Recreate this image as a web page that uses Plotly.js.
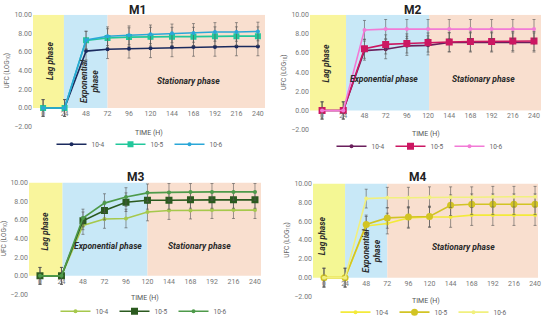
<!DOCTYPE html>
<html><head><meta charset="utf-8">
<script src="https://cdn.plot.ly/plotly-3.0.1.min.js"></script>
<style>html,body{margin:0;padding:0;background:#fff}#c{width:550px;height:327px}</style>
</head><body><div id="c"></div>
<script>
const times = ["0","24","48","72","96","120","144","168","192","216","240"];
const seriesNames = ["10-4","10-5","10-6"];

const m1_104 = [0,0,6.1,6.3,6.35,6.4,6.5,6.55,6.55,6.6,6.6];
const m1_105 = [0,0,7.25,7.5,7.6,7.65,7.65,7.65,7.7,7.7,7.7];
const m1_106 = [0,0,7.3,7.7,7.8,7.9,8.0,8.05,8.15,8.15,8.2];
const m1_err = [0.9,0.9,0.95,1.0,1.0,1.0,1.0,1.0,1.0,1.0,1.0];

const m2_104 = [0,0,6.25,6.4,6.75,6.8,7.1,7.1,7.1,7.1,7.1];
const m2_105 = [0,0,6.45,6.9,7.0,7.1,7.15,7.2,7.2,7.25,7.25];
const m2_106 = [0,0,8.4,8.5,8.5,8.5,8.5,8.5,8.5,8.5,8.5];
const m2_err = [0.9,0.9,1.0,1.0,1.0,1.0,1.0,1.0,1.0,1.0,1.0];

const m3_104 = [0,0,5.4,6.1,6.15,6.85,7.0,7.0,7.05,7.05,7.05];
const m3_105 = [0,0,5.9,7.0,7.9,8.1,8.1,8.15,8.15,8.15,8.15];
const m3_106 = [0,0,6.2,7.8,8.45,8.9,8.95,9.0,9.0,9.0,9.0];
const m3_err = [0.9,0.9,0.95,1.0,1.0,0.95,0.95,0.9,0.9,0.9,0.9];

const m4_104 = [0,0,5.5,5.75,6.35,6.45,6.45,6.65,6.65,6.65,6.65];
const m4_105 = [0,0,5.65,6.35,6.45,6.5,7.7,7.8,7.8,7.8,7.8];
const m4_106 = [0,0,8.4,8.5,8.5,8.55,8.55,8.55,8.6,8.6,8.6];
const m4_err = [1.0,1.0,1.0,1.1,1.1,1.1,1.1,1.1,1.1,1.1,1.1];

const idx = times.map((t,i)=>i);
const W=550,H=327;
const px=(a,b)=>[a/W,b/W];
const py=(top,bot)=>[1-bot/H,1-top/H];

const panels = [
  {name:"M1", ax:"", data:[m1_104,m1_105,m1_106], err:m1_err,
   colors:["#1b2a5e","#22c79b","#2aa7d8"], sizes:[4,6,4], sym:["circle","square","circle"],
   xd:px(33,265), top:15, bot:129, xr:[-0.47,10.33],
   phases:[[-0.47,0.97,"#f9f59c"],[0.97,3,"#c8e8f7"],[3,10.33,"#f9dfcf"]],
   legend:"legend", lx:140, ly:147, tx:137, ty:10, xt:135,
   labels:[{t:"Lag phase",x:0.33,y:5.05,r:-90},{t:"Exponential<br>phase",x:2.19,y:2.9,r:-90},{t:"Stationary phase",x:6.75,y:2.9,r:0}]},
  {name:"M2", ax:"2", data:[m2_104,m2_105,m2_106], err:m2_err,
   colors:["#6a1f5c","#cc1762","#f27ad6"], sizes:[4,7,4], sym:["circle","square","circle"],
   xd:px(310,541), top:15, bot:132, xr:[-0.57,10.33],
   phases:[[-0.57,1.13,"#f9f59c"],[1.13,5.05,"#c8e8f7"],[5.05,10.33,"#f9dfcf"]],
   legend:"legend2", lx:420, ly:149, tx:413, ty:10, xt:137,
   labels:[{t:"Lag phase",x:0.14,y:4.9,r:-90},{t:"Exponential phase",x:2.92,y:3.27,r:0},{t:"Stationary phase",x:7.6,y:3.27,r:0}]},
  {name:"M3", ax:"3", data:[m3_104,m3_105,m3_106], err:m3_err,
   colors:["#a6c84c","#2b5a1f","#4e9a4a"], sizes:[4,7,4], sym:["circle","square","circle"],
   xd:px(29,261), top:186, bot:300, xr:[-0.51,10.28],
   phases:[[-0.51,1.05,"#f9f59c"],[1.05,5.0,"#c8e8f7"],[5.0,10.28,"#f9dfcf"]],
   legend:"legend3", lx:144, ly:317, tx:136, ty:180, xt:304,
   labels:[{t:"Lag phase",x:0.23,y:4.84,r:-90},{t:"Exponential phase",x:3.16,y:3.17,r:0},{t:"Stationary phase",x:7.44,y:3.17,r:0}]},
  {name:"M4", ax:"4", data:[m4_104,m4_105,m4_106], err:m4_err,
   colors:["#f3ea3a","#d2c424","#f1f07e"], sizes:[4,7,4], sym:["circle","circle","circle"],
   xd:px(313,538), top:187, bot:302, xr:[-0.52,10.14],
   phases:[[-0.52,1.0,"#f4f794"],[1.0,3.0,"#c8e8f7"],[3.0,10.14,"#f9dfcf"]],
   legend:"legend4", lx:424, ly:318, tx:418, ty:180, xt:307,
   labels:[{t:"Lag phase",x:-0.1,y:4.5,r:-90},{t:"Exponential<br>phase",x:2.27,y:2.85,r:-90},{t:"Stationary phase",x:6.59,y:3.27,r:0}]}
];

const traces=[]; const shapes=[]; const annotations=[];
const layout = {width:W,height:H,margin:{l:0,r:0,t:0,b:0},paper_bgcolor:"#fff",plot_bgcolor:"rgba(0,0,0,0)",
  font:{family:"Roboto, 'Noto Sans', sans-serif",color:"#777"}};

panels.forEach(p=>{
  const xa="x"+p.ax, ya="y"+p.ax;
  const zeroPx = p.bot - (p.bot-p.top)*2/12;
  p.data.forEach((d,k)=>{
    traces.push({type:"scatter",mode:"lines+markers",x:idx,y:d,name:seriesNames[k],
      xaxis:xa,yaxis:ya,legend:p.legend,
      line:{color:p.colors[k],width:1.6},
      marker:{color:p.colors[k],size:p.sizes[k],symbol:p.sym[k]},
      error_y:{type:"data",array:p.err,visible:true,color:"#555",thickness:0.6,width:1.5}});
  });
  layout["xaxis"+p.ax]={domain:p.xd,range:p.xr,anchor:"free",position:1-zeroPx/H,
    tickmode:"array",tickvals:idx,ticktext:times,
    showgrid:false,zeroline:false,showline:false,ticks:"",tickfont:{size:7,color:"#777"}};
  layout["yaxis"+p.ax]={domain:py(p.top,p.bot),range:[-2,10],anchor:xa,dtick:2,tick0:-2,tickformat:".2f",
    showgrid:false,zeroline:false,showline:false,ticks:"",tickfont:{size:7,color:"#777"},
    title:{text:"UFC (LOG<sub>10</sub>)",font:{size:6.5,color:"#666"},standoff:4}};
  p.phases.forEach(ph=>{
    shapes.push({type:"rect",xref:xa,yref:ya,x0:ph[0],x1:ph[1],y0:0,y1:10,fillcolor:ph[2],line:{width:0},layer:"below"});
  });
  p.labels.forEach(l=>{
    annotations.push({xref:xa,yref:ya,x:l.x,y:l.y,text:"<b><i>"+l.t+"</i></b>",textangle:l.r,showarrow:false,
      font:{size:8.5,color:"#2a2a2a"}});
  });
  annotations.push({xref:"paper",yref:"paper",x:p.tx/W,y:1-p.ty/H,text:"<b>"+p.name+"</b>",showarrow:false,
    font:{size:12,color:"#222"},xanchor:"center",yanchor:"middle"});
  annotations.push({xref:"paper",yref:"paper",x:(p.xd[0]+p.xd[1])/2,y:1-p.xt/H,text:"TIME (H)",showarrow:false,
    font:{size:7,color:"#555"},xanchor:"center",yanchor:"middle"});
  layout[p.legend]={orientation:"h",x:p.lx/W,y:1-p.ly/H,xanchor:"center",yanchor:"middle",
    font:{size:6.5,color:"#666"},bgcolor:"rgba(0,0,0,0)",itemwidth:30,entrywidth:14,entrywidthmode:"pixels",tracegroupgap:0};
});
layout.shapes=shapes; layout.annotations=annotations;
Plotly.newPlot("c",traces,layout,{displayModeBar:false,staticPlot:true});
</script></body></html>
